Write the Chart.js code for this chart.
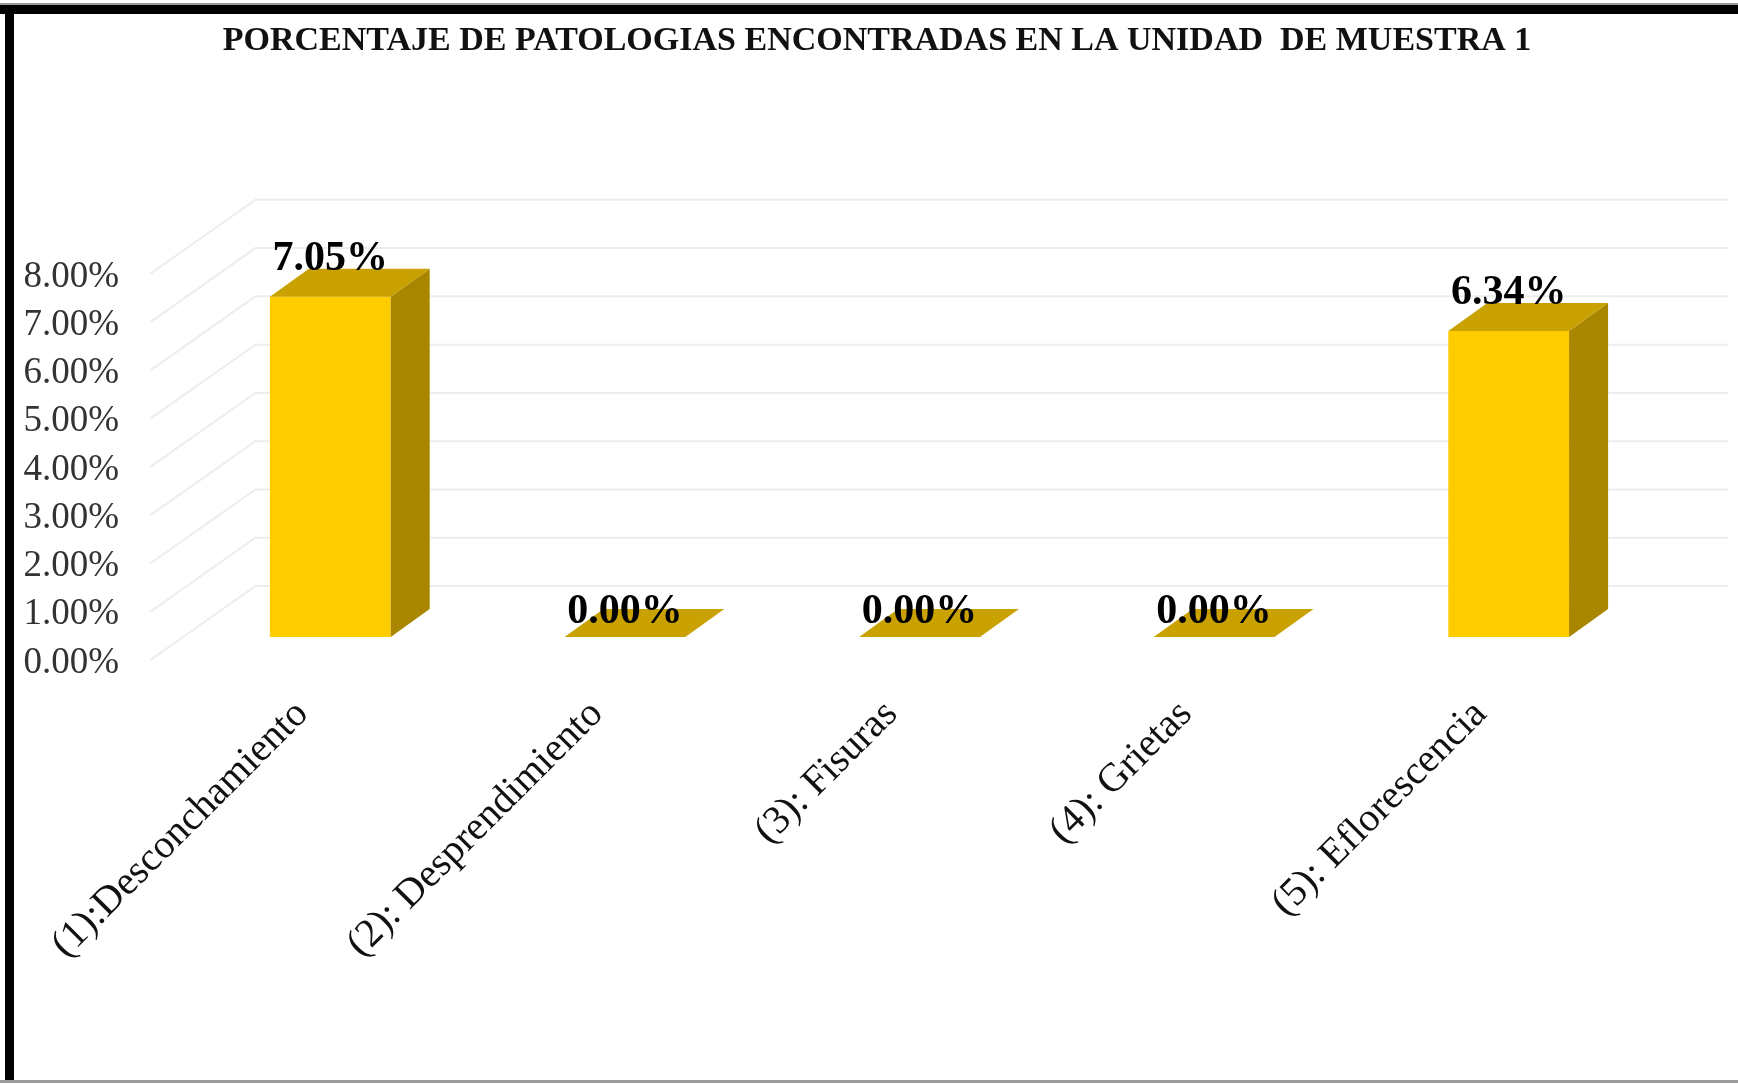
<!DOCTYPE html>
<html lang="es">
<head>
  <meta charset="UTF-8" />
  <title>Patologías - Unidad de muestra 1</title>
  <script src="https://cdn.jsdelivr.net/npm/chart.js"></script>
  <style>
    html, body { margin: 0; padding: 0; background: #fff; }
    #wrap { position: relative; width: 1738px; height: 1084px; }
  </style>
</head>
<body>
  <div id="wrap"><canvas id="patologias"></canvas></div>

  <script>
    const categorias = [
      '(1):Desconchamiento',
      '(2): Desprendimiento',
      '(3): Fisuras',
      '(4): Grietas',
      '(5): Eflorescencia'
    ];
    const porcentajes = [7.05, 0.00, 0.00, 0.00, 6.34];
    const ticksY = [0, 1, 2, 3, 4, 5, 6, 7, 8];

    // depth of each bar and of the whole floor (oblique 3D look)
    const DX = 39, DY = 28;
    const FLOOR_FRONT = 23, FLOOR_BACK = 51, SLOPE = 1.42;
    const SERIF = '"Liberation Serif", "Times New Roman", serif';

    const marco = {
      id: 'marco',
      beforeDraw(chart) {
        const { ctx, width, height } = chart;
        ctx.save();
        ctx.fillStyle = '#fff';
        ctx.fillRect(0, 0, width, height);
        ctx.fillStyle = '#9a9a9a';
        ctx.fillRect(0, 3, width, 2);
        ctx.fillRect(0, height - 4, width, 3);
        ctx.fillStyle = '#000';
        ctx.fillRect(0, 5, width, 9);
        ctx.fillRect(5, 5, 9, height - 9);
        ctx.restore();
      }
    };

    const paredes = {
      id: 'paredes',
      beforeDatasetsDraw(chart) {
        const { ctx, chartArea } = chart;
        const y = chart.scales.y;
        const backDx = FLOOR_BACK * SLOPE;
        const frontDx = FLOOR_FRONT * SLOPE;
        ctx.save();
        ctx.strokeStyle = '#ededed';
        ctx.lineWidth = 2;
        ticksY.forEach(v => {
          const py = y.getPixelForValue(v);
          ctx.beginPath();
          ctx.moveTo(chartArea.left - frontDx, py + FLOOR_FRONT);
          ctx.lineTo(chartArea.left + backDx, py - FLOOR_BACK);
          ctx.lineTo(chartArea.right + backDx, py - FLOOR_BACK);
          ctx.stroke();
        });
        ctx.restore();
      }
    };

    const barras3d = {
      id: 'barras3d',
      afterDatasetsDraw(chart) {
        const { ctx } = chart;
        const meta = chart.getDatasetMeta(0);
        ctx.save();
        meta.data.forEach((bar, i) => {
          const { x, y, base, width } = bar.getProps(['x', 'y', 'base', 'width'], true);
          const l = x - width / 2, r = x + width / 2;
          // side face
          if (base - y > 0.5) {
            ctx.fillStyle = '#a88600';
            ctx.beginPath();
            ctx.moveTo(r, y);
            ctx.lineTo(r + DX, y - DY);
            ctx.lineTo(r + DX, base - DY);
            ctx.lineTo(r, base);
            ctx.closePath();
            ctx.fill();
          }
          // top face
          ctx.fillStyle = '#c9a100';
          ctx.beginPath();
          ctx.moveTo(l, y);
          ctx.lineTo(l + DX, y - DY);
          ctx.lineTo(r + DX, y - DY);
          ctx.lineTo(r, y);
          ctx.closePath();
          ctx.fill();

          // value label
          const v = porcentajes[i];
          const lift = v > 0 ? DY - 1 : DY / 2;
          ctx.fillStyle = '#000';
          ctx.font = 'bold 42px ' + SERIF;
          ctx.textAlign = 'center';
          ctx.textBaseline = 'alphabetic';
          ctx.fillText(v.toFixed(2) + '%', x, y - lift);
        });
        ctx.restore();
      }
    };

    new Chart(document.getElementById('patologias'), {
      type: 'bar',
      data: {
        labels: categorias,
        datasets: [{
          data: porcentajes,
          backgroundColor: '#ffcc00',
          borderWidth: 0,
          barPercentage: 0.41,
          categoryPercentage: 1
        }]
      },
      options: {
        responsive: true,
        maintainAspectRatio: false,
        animation: false,
        layout: { padding: { left: 16, right: 0, top: 0, bottom: 0 } },
        plugins: {
          legend: { display: false },
          tooltip: { enabled: false },
          title: {
            display: true,
            text: 'PORCENTAJE DE PATOLOGIAS ENCONTRADAS EN LA UNIDAD  DE MUESTRA 1',
            color: '#111',
            font: { family: SERIF, size: 34, weight: 'bold' },
            padding: { top: 21, bottom: 189 }
          }
        },
        scales: {
          y: {
            min: 0,
            max: 8,
            afterFit: s => { s.width = 167; },
            afterBuildTicks: s => { s.ticks = ticksY.map(v => ({ value: v })); },
            grid: { display: false },
            border: { display: false },
            ticks: {
              padding: 56,
              labelOffset: FLOOR_FRONT + 3,
              color: '#333',
              font: { family: SERIF, size: 37 },
              callback: v => v.toFixed(2) + '%'
            }
          },
          // empty right axis, leaves room for the back wall
          derecha: {
            position: 'right',
            afterFit: s => { s.width = 82; },
            grid: { display: false },
            border: { display: false },
            ticks: { display: false }
          },
          x: {
            afterFit: s => { s.height = 447; },
            grid: { display: false },
            border: { display: false },
            ticks: {
              minRotation: 45,
              maxRotation: 45,
              padding: 46,
              labelOffset: -28,
              color: '#111',
              font: { family: SERIF, size: 40 }
            }
          }
        }
      },
      plugins: [marco, paredes, barras3d]
    });
  </script>
</body>
</html>
